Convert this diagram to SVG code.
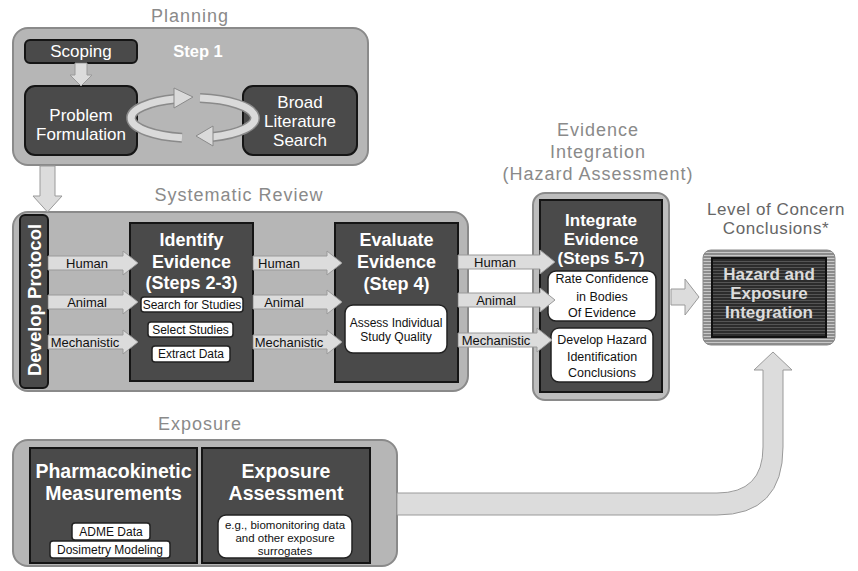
<svg xmlns="http://www.w3.org/2000/svg" width="858" height="571" viewBox="0 0 858 571">
<style>
text{font-family:"Liberation Sans",Arial,sans-serif}
.title{font-size:18px;fill:#8a8a8a;text-anchor:middle;letter-spacing:1px}
.outer{fill:#b6b6b6;stroke:#8a8a8a;stroke-width:2}
.dark{fill:#4a4a4a;stroke:#151515;stroke-width:2}
.hd{font-size:18px;font-weight:bold;fill:#fff;text-anchor:middle}
.hr{font-size:17px;fill:#fff;text-anchor:middle}
.wbox{fill:#fff;stroke:#222;stroke-width:1.5}
.wt{font-size:12px;fill:#111;text-anchor:middle}
.arr{fill:#dcdcdc;stroke:#9a9a9a;stroke-width:1}
.lbl{font-size:13px;fill:#111;text-anchor:middle}
.loopo{fill:none;stroke:#8a8a8a;stroke-width:10}
.loopi{fill:none;stroke:#dadada;stroke-width:7}
</style>
<defs>
<pattern id="hatch" width="4" height="3" patternUnits="userSpaceOnUse">
<rect width="4" height="3" fill="#8c8c8c"/>
<rect width="4" height="1" fill="#c8c8c8"/>
</pattern>
<pattern id="hatchd" width="4" height="3" patternUnits="userSpaceOnUse">
<rect width="4" height="3" fill="#2c2c2c"/>
<rect width="4" height="1" fill="#555"/>
</pattern>
</defs>

<!-- Section titles -->
<text class="title" x="190" y="22">Planning</text>
<text class="title" x="239" y="201">Systematic Review</text>
<text class="title" x="598" y="136">Evidence</text>
<text class="title" x="598" y="158">Integration</text>
<text class="title" x="598" y="180">(Hazard Assessment)</text>
<text class="title" x="776" y="215" style="fill:#666;font-size:17px;letter-spacing:0.6px">Level of Concern</text>
<text class="title" x="776" y="234" style="fill:#666;font-size:17px;letter-spacing:0.6px">Conclusions*</text>
<text class="title" x="200" y="430">Exposure</text>

<!-- Planning -->
<g id="planning">
<rect class="outer" x="13" y="28" width="355" height="137" rx="15"/>
<text x="198" y="57" style="font-size:16.5px;font-weight:bold;fill:#fff;text-anchor:middle">Step 1</text>
</g>
<g id="scoping">
<rect class="dark" x="25" y="40" width="112" height="23" rx="5"/>
<text class="hr" x="81" y="57">Scoping</text>
</g>
<g id="problem-formulation">
<rect class="dark" x="25" y="86" width="112" height="69" rx="10"/>
<text class="hr" x="81" y="121">Problem</text>
<text class="hr" x="81" y="140">Formulation</text>
</g>
<g id="broad-literature-search">
<rect class="dark" x="243" y="86" width="114" height="69" rx="10"/>
<text class="hr" x="300" y="108">Broad</text>
<text class="hr" x="300" y="127">Literature</text>
<text class="hr" x="300" y="146">Search</text>
</g>

<!-- Systematic review -->
<g id="systematic-review">
<rect class="outer" x="13" y="212" width="455" height="179" rx="15"/>
</g>
<g id="develop-protocol">
<rect class="dark" x="20" y="215" width="28" height="173" rx="5"/>
<text transform="translate(40.5,300) rotate(-90)" style="font-size:18.5px;font-weight:bold;fill:#fff;text-anchor:middle">Develop Protocol</text>
</g>
<g id="identify-evidence">
<rect class="dark" x="130" y="223" width="123" height="158"/>
<text class="hd" x="191.5" y="246">Identify</text>
<text class="hd" x="191.5" y="268">Evidence</text>
<text class="hd" x="191.5" y="289">(Steps 2-3)</text>
<rect class="wbox" x="141" y="297" width="102" height="15" rx="3"/>
<text class="wt" x="192" y="309">Search for Studies</text>
<rect class="wbox" x="148" y="322" width="85" height="15" rx="3"/>
<text class="wt" x="190.5" y="334">Select Studies</text>
<rect class="wbox" x="152" y="346" width="78" height="16" rx="3"/>
<text class="wt" x="191" y="358">Extract Data</text>
</g>
<g id="evaluate-evidence">
<rect class="dark" x="335" y="223" width="123" height="159"/>
<text class="hd" x="396.5" y="246">Evaluate</text>
<text class="hd" x="396.5" y="268">Evidence</text>
<text class="hd" x="396.5" y="290">(Step 4)</text>
<rect class="wbox" x="345" y="305" width="102" height="48" rx="8"/>
<text class="wt" x="396" y="327">Assess Individual</text>
<text class="wt" x="396" y="341">Study Quality</text>
</g>

<!-- Evidence integration -->
<g id="integrate-evidence">
<rect x="533" y="193" width="136" height="207" rx="12" style="fill:#bdbdbd;stroke:#8a8a8a;stroke-width:2"/>
<rect class="dark" x="540" y="200" width="122" height="192"/>
<text class="hd" x="601" y="226" style="font-size:17px">Integrate</text>
<text class="hd" x="601" y="245" style="font-size:17px">Evidence</text>
<text class="hd" x="601" y="264" style="font-size:17px">(Steps 5-7)</text>
<rect class="wbox" x="548" y="271" width="108" height="50" rx="8"/>
<text class="wt" x="602" y="283" style="font-size:12.5px">Rate Confidence</text>
<text class="wt" x="602" y="301" style="font-size:12.5px">in Bodies</text>
<text class="wt" x="602" y="317" style="font-size:12.5px">Of Evidence</text>
<rect class="wbox" x="551" y="328" width="102" height="54" rx="8"/>
<text class="wt" x="602" y="344" style="font-size:12.5px">Develop  Hazard</text>
<text class="wt" x="602" y="361" style="font-size:12.5px">Identification</text>
<text class="wt" x="602" y="377" style="font-size:12.5px">Conclusions</text>
</g>

<!-- Level of concern -->
<g id="hazard-exposure-integration">
<rect x="703" y="250" width="132" height="95" rx="8" fill="url(#hatch)" stroke="#888" stroke-width="1"/>
<rect x="712" y="258" width="114" height="79" fill="url(#hatchd)" stroke="#111" stroke-width="2"/>
<text x="769" y="280" style="font-size:17px;font-weight:bold;fill:#dcdcdc;text-anchor:middle">Hazard and</text>
<text x="769" y="299" style="font-size:17px;font-weight:bold;fill:#dcdcdc;text-anchor:middle">Exposure</text>
<text x="769" y="318" style="font-size:17px;font-weight:bold;fill:#dcdcdc;text-anchor:middle">Integration</text>
</g>

<!-- Exposure -->
<g id="exposure">
<rect class="outer" x="13" y="440" width="384" height="126" rx="15"/>
</g>
<g id="pharmacokinetic-measurements">
<rect class="dark" x="30" y="448" width="167" height="115"/>
<text x="113.5" y="478" style="font-size:19.5px;font-weight:bold;fill:#fff;text-anchor:middle">Pharmacokinetic</text>
<text x="113.5" y="500" style="font-size:19.5px;font-weight:bold;fill:#fff;text-anchor:middle">Measurements</text>
<rect class="wbox" x="72" y="523" width="78" height="17" rx="3"/>
<text class="wt" x="111" y="536">ADME Data</text>
<rect class="wbox" x="50" y="541" width="120" height="17" rx="3"/>
<text class="wt" x="110" y="554">Dosimetry Modeling</text>
</g>
<g id="exposure-assessment">
<rect class="dark" x="202" y="448" width="168" height="115"/>
<text x="286" y="478" style="font-size:19.5px;font-weight:bold;fill:#fff;text-anchor:middle">Exposure</text>
<text x="286" y="500" style="font-size:19.5px;font-weight:bold;fill:#fff;text-anchor:middle">Assessment</text>
<rect class="wbox" x="218" y="515" width="134" height="43" rx="8"/>
<text class="wt" x="285" y="529" style="font-size:11.5px">e.g., biomonitoring  data</text>
<text class="wt" x="285" y="542" style="font-size:11.5px">and other exposure</text>
<text class="wt" x="285" y="555" style="font-size:11.5px">surrogates</text>
</g>

<!-- Connectors -->
<g id="connectors">
<polygon class="arr" points="75,63 87,63 87,75 92,75 81,86 70,75 75,75"/>
<polygon class="arr" points="40,166 55,166 55,196 62,196 47.5,212 33,196 40,196"/>
<path class="loopo" d="M 182 137.7 A 62 20 0 0 1 176 98.8"/>
<path class="loopi" d="M 182 137.7 A 62 20 0 0 1 176 98.8"/>
<polygon class="arr" points="174,88 193,97 174,108" style="fill:#dadada;stroke:#8a8a8a"/>
<path class="loopo" d="M 200 98.1 A 62 20 0 0 1 212 137"/>
<path class="loopi" d="M 200 98.1 A 62 20 0 0 1 212 137"/>
<polygon class="arr" points="213,126 196,136 213,146" style="fill:#dadada;stroke:#8a8a8a"/>

<polygon class="arr" points="48,256 123,256 123,251 138,263 123,275 123,270 48,270"/>
<polygon class="arr" points="48,295 123,295 123,290 138,302 123,314 123,309 48,309"/>
<polygon class="arr" points="48,335 123,335 123,330 138,342 123,354 123,349 48,349"/>
<text class="lbl" x="87" y="267.5">Human</text>
<text class="lbl" x="87" y="306.5">Animal</text>
<text class="lbl" x="85" y="346.5">Mechanistic</text>

<polygon class="arr" points="253,256 327,256 327,251 342,263 327,275 327,270 253,270"/>
<polygon class="arr" points="253,295 327,295 327,290 342,302 327,314 327,309 253,309"/>
<polygon class="arr" points="253,335 327,335 327,330 342,342 327,354 327,349 253,349"/>
<text class="lbl" x="279" y="267.5">Human</text>
<text class="lbl" x="284" y="306.5">Animal</text>
<text class="lbl" x="289" y="346.5">Mechanistic</text>

<polygon class="arr" points="458,255 540,255 540,250 555,262 540,274 540,269 458,269"/>
<polygon class="arr" points="458,293 540,293 540,288 555,300 540,312 540,307 458,307"/>
<polygon class="arr" points="458,333 537,333 537,328 552,340 537,352 537,347 458,347"/>
<text class="lbl" x="495" y="266.5">Human</text>
<text class="lbl" x="496" y="304.5">Animal</text>
<text class="lbl" x="496" y="344.5">Mechanistic</text>

<polygon class="arr" points="671,289 685,289 685,279 699,297 685,315 685,305 671,305"/>
<path class="arr" d="M 397 493 H 717 Q 763 493 763 447 V 370 H 754 L 773 352 L 792 370 H 783 V 447 Q 783 515 717 515 H 397 Z"/>
</g>
</svg>
